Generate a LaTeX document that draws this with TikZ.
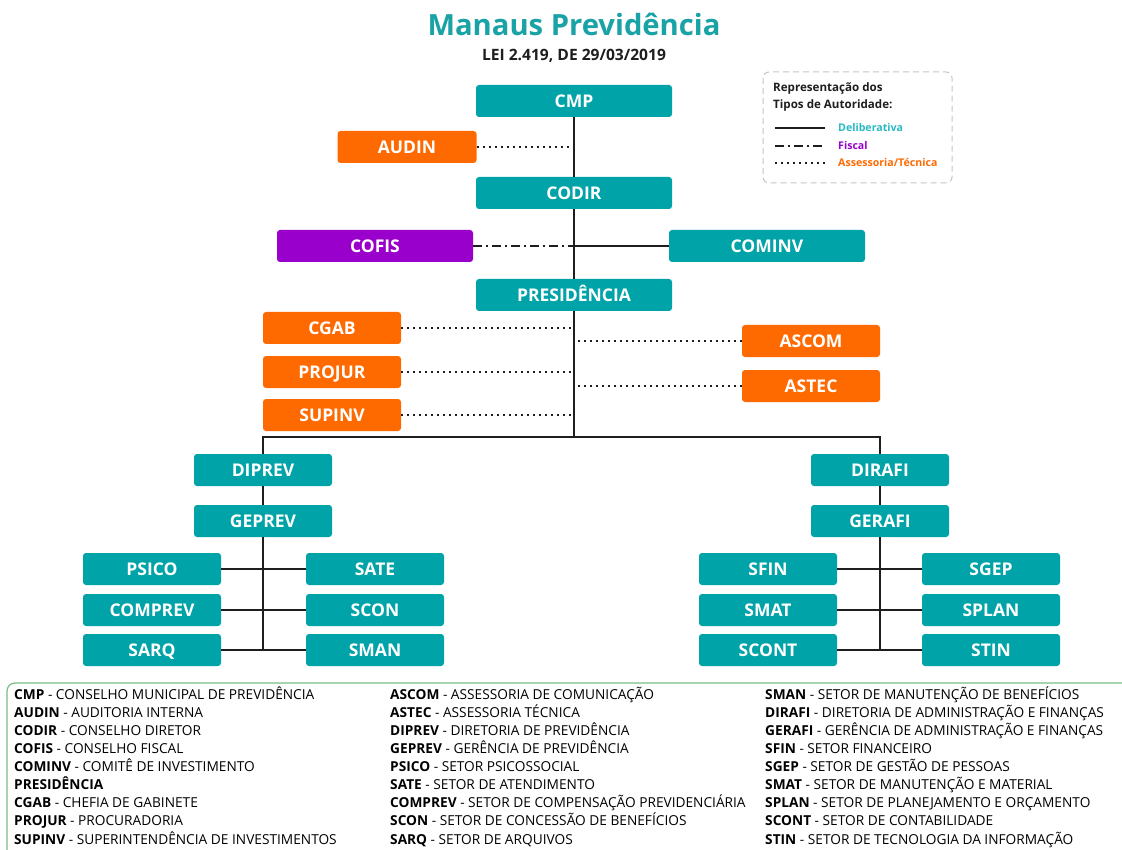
\documentclass[tikz,border=0pt]{standalone}
\usepackage{fontspec}
\setmainfont{Open Sans}
\begin{document}
\definecolor{tealbx}{RGB}{0,163,168}
\definecolor{orangebx}{RGB}{255,106,0}
\definecolor{purplebx}{RGB}{153,0,204}
\definecolor{titleteal}{RGB}{26,163,166}
\definecolor{legteal}{RGB}{40,185,195}
\definecolor{linec}{RGB}{30,30,30}
\definecolor{framegreen}{RGB}{120,190,130}
\begin{tikzpicture}[x=1pt,y=-1pt,
  box/.style={rounded corners=3pt, minimum height=32pt, inner sep=0pt, text=white,
    text height=12.4pt, text depth=0pt,
    font=\fontsize{17.5}{20}\selectfont\bfseries},
  tbox/.style={box, fill=tealbx},
  obox/.style={box, fill=orangebx},
  pbox/.style={box, fill=purplebx},
  wide/.style={minimum width=196pt},
  mid/.style={minimum width=138pt},
  conn/.style={draw=linec, line width=1.4pt},
  dots/.style={draw=linec, line width=1.4pt, dash pattern=on 2pt off 4pt},
  dashdotline/.style={draw=linec, line width=1.4pt, dash pattern=on 9pt off 4pt on 2pt off 4pt},
  legtext/.style={anchor=west, inner sep=0pt, text height=8.3pt, text depth=0pt, font=\fontsize{11.6}{13}\selectfont\bfseries},
  legitem/.style={anchor=west, inner sep=0pt, text height=7.6pt, text depth=0pt, font=\fontsize{10.6}{12}\selectfont\bfseries},
  keytext/.style={anchor=west, inner sep=0pt, text height=9.8pt, text depth=0pt, font=\fontsize{13.7}{15}\selectfont}
]
\useasboundingbox (0,0) rectangle (1122,850);
\fill[white] (0,0) rectangle (1122,850);

% title
\node[font=\fontsize{29.2}{33}\selectfont\bfseries, text=titleteal, text height=21pt, text depth=0pt, inner sep=0pt] (title) at (574,25) {Manaus Previdência};
\node[font=\fontsize{15.6}{18}\selectfont\bfseries, text=linec, text height=11pt, text depth=0pt, inner sep=0pt] (subtitle) at (574,55) {LEI 2.419, DE 29/03/2019};

% top chain
\node[tbox, wide] (CMP) at (574,101) {CMP};
\node[obox, minimum width=139pt] (AUDIN) at (407,147) {AUDIN};
\node[tbox, wide] (CODIR) at (574,193) {CODIR};
\node[pbox, wide] (COFIS) at (375,246) {COFIS};
\node[tbox, wide] (COMINV) at (767,246) {COMINV};
\node[tbox, wide] (PRES) at (574,295) {PRESIDÊNCIA};
\node[obox, mid] (CGAB) at (332,328) {CGAB};
\node[obox, mid] (PROJUR) at (332,372) {PROJUR};
\node[obox, mid] (SUPINV) at (332,415) {SUPINV};
\node[obox, mid] (ASCOM) at (811,341) {ASCOM};
\node[obox, mid] (ASTEC) at (811,386) {ASTEC};

% directorates
\node[tbox, mid] (DIPREV) at (263,470) {DIPREV};
\node[tbox, mid] (GEPREV) at (263,521) {GEPREV};
\node[tbox, mid] (DIRAFI) at (880,470) {DIRAFI};
\node[tbox, mid] (GERAFI) at (880,521) {GERAFI};

\node[tbox, mid] (PSICO) at (152,569) {PSICO};
\node[tbox, mid] (SATE) at (375,569) {SATE};
\node[tbox, mid] (COMPREV) at (152,610) {COMPREV};
\node[tbox, mid] (SCON) at (375,610) {SCON};
\node[tbox, mid] (SARQ) at (152,650) {SARQ};
\node[tbox, mid] (SMAN) at (375,650) {SMAN};

\node[tbox, mid] (SFIN) at (768,569) {SFIN};
\node[tbox, mid] (SGEP) at (991,569) {SGEP};
\node[tbox, mid] (SMAT) at (768,610) {SMAT};
\node[tbox, mid] (SPLAN) at (991,610) {SPLAN};
\node[tbox, mid] (SCONT) at (768,650) {SCONT};
\node[tbox, mid] (STIN) at (991,650) {STIN};

% junction coordinates
\coordinate (jmain) at (574,437);
\coordinate (jprev) at (263,650);
\coordinate (jafi) at (880,650);

% connectors
\path[conn] (CMP.south) -- (CODIR.north);
\path[conn] (CODIR.south) -- (PRES.north);
\path[conn] (PRES.south) -- (jmain);
\path[conn] (jmain) -| (DIPREV.north);
\path[conn] (jmain) -| (DIRAFI.north);
\path[dots] (AUDIN.east) -- (AUDIN.east -| CMP.south);
\path[dashdotline] (COFIS.east) -- (COFIS.east -| CODIR.south);
\path[conn] (COFIS.east -| CODIR.south) -- (COMINV.west);
\path[dots] (CGAB.east) -- ([xshift=-3pt]CGAB.east -| PRES.south);
\path[dots] (PROJUR.east) -- ([xshift=-3pt]PROJUR.east -| PRES.south);
\path[dots] (SUPINV.east) -- ([xshift=-3pt]SUPINV.east -| PRES.south);
\path[dots] (ASCOM.west) -- ([xshift=3pt]ASCOM.west -| PRES.south);
\path[dots] (ASTEC.west) -- ([xshift=3pt]ASTEC.west -| PRES.south);

\path[conn] (DIPREV.south) -- (GEPREV.north);
\path[conn] (GEPREV.south) -- (jprev);
\path[conn] (PSICO.east) -- (SATE.west);
\path[conn] (COMPREV.east) -- (SCON.west);
\path[conn] (SARQ.east) -- (SMAN.west);

\path[conn] (DIRAFI.south) -- (GERAFI.north);
\path[conn] (GERAFI.south) -- (jafi);
\path[conn] (SFIN.east) -- (SGEP.west);
\path[conn] (SMAT.east) -- (SPLAN.west);
\path[conn] (SCONT.east) -- (STIN.west);

% legend of line types
\draw[gray!45, line width=1pt, dash pattern=on 6pt off 4pt, rounded corners=6pt] (763,72) rectangle (952,183);
\node[legtext, text=linec] (lt1) at (773,87) {Representação dos};
\node[legtext, text=linec] (lt2) at (773,104) {Tipos de Autoridade:};
\draw[linec, line width=1.4pt] (775,128) -- (825,128);
\draw[dashdotline] (775,146) -- (825,146);
\draw[dots] (775,163) -- (825,163);
\node[legitem, text=legteal] (l1) at (838,128) {Deliberativa};
\node[legitem, text=purplebx] (l2) at (838,146) {Fiscal};
\node[legitem, text=orangebx] (l3) at (838,163) {Assessoria/Técnica};

% glossary frame
\draw[framegreen, line width=1.2pt, rounded corners=8pt] (7,870) -- (7,683) -- (1140,683);

% glossary column 1
\node[keytext] (k1) at (14,695) {\textbf{CMP} - CONSELHO MUNICIPAL DE PREVIDÊNCIA};
\node[keytext] (k2) at (14,713) {\textbf{AUDIN} - AUDITORIA INTERNA};
\node[keytext] (k3) at (14,731) {\textbf{CODIR} - CONSELHO DIRETOR};
\node[keytext] (k4) at (14,749) {\textbf{COFIS} - CONSELHO FISCAL};
\node[keytext] (k5) at (14,767) {\textbf{COMINV} - COMITÊ DE INVESTIMENTO};
\node[keytext] (k6) at (14,785) {\textbf{PRESIDÊNCIA}};
\node[keytext] (k7) at (14,803) {\textbf{CGAB} - CHEFIA DE GABINETE};
\node[keytext] (k8) at (14,821) {\textbf{PROJUR} - PROCURADORIA};
\node[keytext] (k9) at (14,840) {\textbf{SUPINV} - SUPERINTENDÊNCIA DE INVESTIMENTOS};
% column 2
\node[keytext] (m1) at (390,695) {\textbf{ASCOM} - ASSESSORIA DE COMUNICAÇÃO};
\node[keytext] (m2) at (390,713) {\textbf{ASTEC} - ASSESSORIA TÉCNICA};
\node[keytext] (m3) at (390,731) {\textbf{DIPREV} - DIRETORIA DE PREVIDÊNCIA};
\node[keytext] (m4) at (390,749) {\textbf{GEPREV} - GERÊNCIA DE PREVIDÊNCIA};
\node[keytext] (m5) at (390,767) {\textbf{PSICO} - SETOR PSICOSSOCIAL};
\node[keytext] (m6) at (390,785) {\textbf{SATE} - SETOR DE ATENDIMENTO};
\node[keytext] (m7) at (390,803) {\textbf{COMPREV} - SETOR DE COMPENSAÇÃO PREVIDENCIÁRIA};
\node[keytext] (m8) at (390,821) {\textbf{SCON} - SETOR DE CONCESSÃO DE BENEFÍCIOS};
\node[keytext] (m9) at (390,840) {\textbf{SARQ} - SETOR DE ARQUIVOS};
% column 3
\node[keytext] (n1) at (765,695) {\textbf{SMAN} - SETOR DE MANUTENÇÃO DE BENEFÍCIOS};
\node[keytext] (n2) at (765,713) {\textbf{DIRAFI} - DIRETORIA DE ADMINISTRAÇÃO E FINANÇAS};
\node[keytext] (n3) at (765,731) {\textbf{GERAFI} - GERÊNCIA DE ADMINISTRAÇÃO E FINANÇAS};
\node[keytext] (n4) at (765,749) {\textbf{SFIN} - SETOR FINANCEIRO};
\node[keytext] (n5) at (765,767) {\textbf{SGEP} - SETOR DE GESTÃO DE PESSOAS};
\node[keytext] (n6) at (765,785) {\textbf{SMAT} - SETOR DE MANUTENÇÃO E MATERIAL};
\node[keytext] (n7) at (765,803) {\textbf{SPLAN} - SETOR DE PLANEJAMENTO E ORÇAMENTO};
\node[keytext] (n8) at (765,821) {\textbf{SCONT} - SETOR DE CONTABILIDADE};
\node[keytext] (n9) at (765,840) {\textbf{STIN} - SETOR DE TECNOLOGIA DA INFORMAÇÃO};
\end{tikzpicture}
\end{document}
